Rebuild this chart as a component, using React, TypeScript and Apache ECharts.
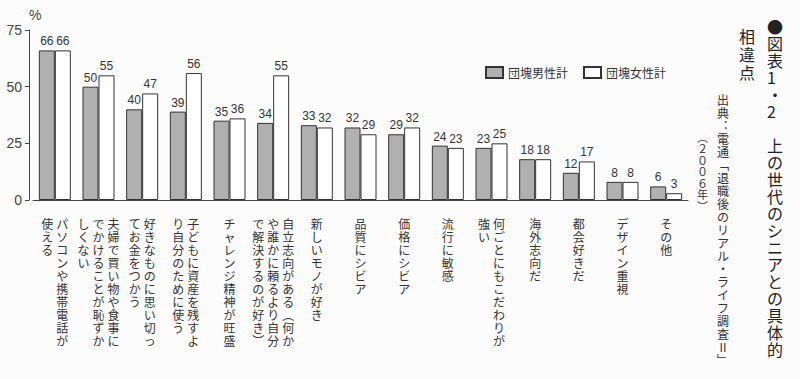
import React, { useEffect, useRef } from "react";
import * as echarts from "echarts";

// Category labels, split into vertical columns (first column is rightmost)
const categoryColumns: string[][] = [
  ["パソコンや携帯電話が", "使える"],
  ["夫婦で買い物や食事に", "でかけることが恥ずか", "しくない"],
  ["好きなものに思い切っ", "てお金をつかう"],
  ["子どもに資産を残すよ", "り自分のために使う"],
  ["チャレンジ精神が旺盛"],
  ["自立志向がある︵何か", "や誰かに頼るより自分", "で解決するのが好き︶"],
  ["新しいモノが好き"],
  ["品質にシビア"],
  ["価格にシビア"],
  ["流行に敏感"],
  ["何ごとにもこだわりが", "強い"],
  ["海外志向だ"],
  ["都会好きだ"],
  ["デザイン重視"],
  ["その他"],
];
const categories = categoryColumns.map((c) => c.join(""));

const seriesNames = ["団塊男性計", "団塊女性計"];
const maleValues = [66, 50, 40, 39, 35, 34, 33, 32, 29, 24, 23, 18, 12, 8, 6];
const femaleValues = [66, 55, 47, 56, 36, 55, 32, 29, 32, 23, 25, 18, 17, 8, 3];

const yTicks = { min: 0, max: 75, interval: 25 };
const yUnit = "%";

const titleLine1 = "●図表1・2\u3000上の世代のシニアとの具体的";
const titleLine2 = "相違点";
const sourceLine = "出典︓電通﹁退職後のリアル・ライフ調査Ⅱ﹂";
const yearLine = "︵２００６年︶";

const vert = (s: string) => Array.from(s).join("\n");

const CJK = "'Noto Sans CJK JP', 'Noto Sans', sans-serif";
const NUM = "'Liberation Sans', Arial, 'Noto Sans CJK JP', sans-serif";

export default function App() {
  const ref = useRef<HTMLDivElement>(null);
  useEffect(() => {
    if (!ref.current) return;
    const chart = echarts.init(ref.current, undefined, { renderer: "svg" });

    const labelFormatter = (_v: string, idx: number) => {
      const cols = categoryColumns[idx].map((c) => Array.from(c));
      const rows = Math.max(...cols.map((c) => c.length));
      const lines: string[] = [];
      for (let r = 0; r < rows; r++) {
        const parts = cols
          .slice()
          .reverse()
          .map((c) => `{c|${c[r] ?? "\u3000"}}`);
        lines.push(parts.join(""));
      }
      return lines.join("\n");
    };

    chart.setOption({
      animation: false,
      backgroundColor: "#fcfcfc",
      textStyle: { fontFamily: CJK },
      grid: { left: 33, right: 112, top: 30, bottom: 179 },
      legend: {
        left: 480,
        top: 61,
        itemWidth: 17,
        itemHeight: 11,
        itemGap: 15,
        icon: "rect",
        textStyle: { fontSize: 12, color: "#333", fontFamily: CJK },
        data: seriesNames,
      },
      xAxis: {
        type: "category",
        data: categories,
        axisLine: { lineStyle: { color: "#444", width: 1 } },
        axisTick: { show: false },
        axisLabel: {
          interval: 0,
          margin: 17,
          formatter: labelFormatter,
          rich: {
            c: {
              width: 15,
              align: "center",
              fontSize: 12,
              lineHeight: 13,
              color: "#333",
              fontFamily: CJK,
            },
          },
        },
      },
      yAxis: {
        type: "value",
        min: yTicks.min,
        max: yTicks.max,
        interval: yTicks.interval,
        offset: 4,
        name: yUnit,
        nameGap: 8,
        nameTextStyle: {
          fontSize: 14,
          color: "#444",
          align: "left",
          fontFamily: NUM,
        },
        axisLine: { show: true, lineStyle: { color: "#444", width: 1 } },
        axisTick: { show: true, inside: false, length: 4, lineStyle: { color: "#444" } },
        splitLine: { show: false },
        axisLabel: { fontSize: 14, color: "#444", margin: 7, fontFamily: NUM },
      },
      series: [
        {
          name: seriesNames[0],
          type: "bar",
          data: maleValues,
          barWidth: 16,
          barGap: "0%",
          itemStyle: { color: "#b0b0b0", borderColor: "#333", borderWidth: 1 },
          label: {
            show: true,
            position: "top",
            distance: 3,
            fontSize: 12,
            color: "#333",
            fontFamily: NUM,
          },
        },
        {
          name: seriesNames[1],
          type: "bar",
          data: femaleValues,
          barWidth: 16,
          barGap: "0%",
          itemStyle: { color: "#ffffff", borderColor: "#333", borderWidth: 1 },
          label: {
            show: true,
            position: "top",
            distance: 3,
            fontSize: 12,
            color: "#333",
            fontFamily: NUM,
          },
        },
      ],
      graphic: [
        {
          type: "text",
          left: 767,
          top: 17,
          style: {
            text: vert(titleLine1),
            font: `16px ${CJK}`,
            lineHeight: 17,
            fill: "#222",
            align: "center",
            width: 17,
          },
        },
        {
          type: "text",
          left: 739,
          top: 27,
          style: {
            text: vert(titleLine2),
            font: `16px ${CJK}`,
            lineHeight: 18,
            fill: "#222",
            align: "center",
            width: 17,
          },
        },
        {
          type: "text",
          left: 717,
          top: 93,
          style: {
            text: vert(sourceLine),
            font: `12px ${CJK}`,
            lineHeight: 13,
            fill: "#333",
            align: "center",
            width: 13,
          },
        },
        {
          type: "text",
          left: 697,
          top: 131,
          style: {
            text: vert(yearLine),
            font: `11px ${CJK}`,
            lineHeight: 11.5,
            fill: "#333",
            align: "center",
            width: 13,
          },
        },
      ],
    });
    return () => chart.dispose();
  }, []);

  return (
    <div
      ref={ref}
      style={{ position: "absolute", left: 0, top: 0, width: 800, height: 379 }}
    />
  );
}
